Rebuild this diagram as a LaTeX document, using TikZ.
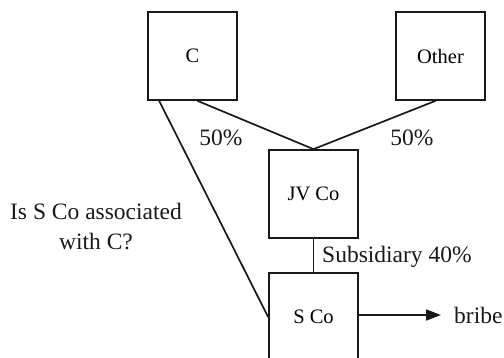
\documentclass[tikz,border=0pt]{standalone}
\usepackage{fontspec}
\setmainfont{Liberation Serif}
\usetikzlibrary{arrows.meta}
\begin{document}
\begin{tikzpicture}[x=1pt,y=-1pt,
  box/.style={draw=black!90,line width=1.7pt,minimum width=89pt,minimum height=88pt,inner sep=0pt,font=\fontsize{20.5}{24}\selectfont},
  lbl/.style={font=\fontsize{23.5}{30}\selectfont,inner sep=0pt,text=black!90},
  conn/.style={draw=black!90,line width=1.7pt}]
\useasboundingbox (0,0) rectangle (504,358);
\clip (0,0) rectangle (504,358);
\node[box] (C) at (192.5,56) {C};
\node[box] (O) at (440.5,56) {Other};
\node[box] (JV) at (313.5,194) {JV Co};
\node[box] (S) at (313.5,317) {S Co};
\draw[conn] ([xshift=5pt]C.south) -- (JV.north);
\draw[conn] ([xshift=-5pt]O.south) -- (JV.north);
\draw[conn] ([xshift=12pt]C.south west) -- (S.west);
\draw[conn] (JV.south) -- (S.north);
\coordinate (tip) at (441,315);
\draw[conn,-{Triangle[length=15pt,width=11pt]}] (S.east |- tip) -- (tip);
\node[lbl,anchor=west] (bribe) at (454,315) {bribe};
\node[lbl] (p1) at (221,138) {50\%};
\node[lbl] (p2) at (412,138) {50\%};
\node[lbl,align=center] (q) at (96,227) {Is S Co associated\\with C?};
\node[lbl,anchor=west] (sub) at (322,257) {Subsidiary 40\%};
\end{tikzpicture}
\end{document}
